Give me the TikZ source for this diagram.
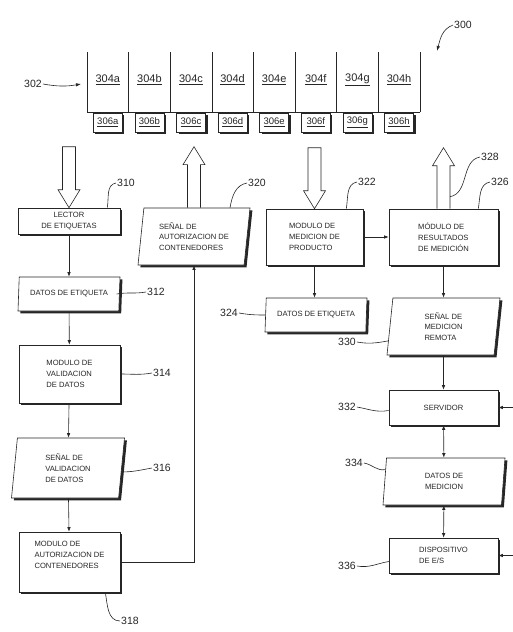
\documentclass[tikz,border=0pt]{standalone}
\usepackage{fontspec}
\setmainfont{Liberation Sans}
\usetikzlibrary{calc,arrows.meta,shapes.geometric,shadows}
\definecolor{inkGrey}{HTML}{262626}
\tikzset{
  procbox/.style={rectangle, draw=inkGrey, fill=white, line width=0.6pt, align=left, font=\fontsize{7.6}{10.8}\selectfont, text=inkGrey, inner sep=2pt, drop shadow={shadow xshift=2.4pt, shadow yshift=-2.4pt, fill=inkGrey, opacity=1}},
  databox/.style={trapezium, trapezium left angle=79, trapezium right angle=101, trapezium stretches body=true, draw=inkGrey, fill=white, line width=0.6pt, align=left, font=\fontsize{7.6}{10.8}\selectfont, text=inkGrey, inner sep=1pt, drop shadow={shadow xshift=2.4pt, shadow yshift=-2.4pt, fill=inkGrey, opacity=1}},
  slimdata/.style={databox, trapezium left angle=82, trapezium right angle=98},
  tagbox/.style={rectangle, draw=inkGrey, fill=white, line width=0.6pt, minimum width=29, minimum height=19, inner sep=0pt, font=\fontsize{9.5}{10}\selectfont, text=inkGrey, drop shadow={shadow xshift=2pt, shadow yshift=-2pt, fill=inkGrey, opacity=1}},
  slotnum/.style={font=\fontsize{11}{12}\selectfont, text=inkGrey, inner sep=1pt},
  slotline/.style={draw=inkGrey, line width=0.6pt},
  refnum/.style={font=\fontsize{10.5}{12}\selectfont, text=inkGrey, inner sep=1pt},
  leader/.style={draw=inkGrey, line width=0.6pt},
  leaderarrow/.style={leader, -{Latex[length=5pt,width=3.5pt]}},
  flowarrow/.style={-{Latex[length=4.5pt,width=3.5pt]}, line width=0.6pt, draw=inkGrey},
  bothflow/.style={{Latex[length=4.5pt,width=3.5pt]}-{Latex[length=4.5pt,width=3.5pt]}, line width=0.6pt, draw=inkGrey},
  % --- hollow in/out arrows ---
  hollowdown/.pic={\draw[line width=0.6pt, draw=inkGrey, fill=white] (0,0) -- (-11,18) -- (-6.5,18) -- (-6.5,61) -- (6.5,61) -- (6.5,18) -- (11,18) -- cycle;},
  hollowup/.pic={\draw[line width=0.6pt, draw=inkGrey] (-6.5,0) -- (-6.5,43) -- (-11,43) -- (0,61) -- (11,43) -- (6.5,43) -- (6.5,0);},
}

\begin{document}
\begin{tikzpicture}[x=1pt,y=1pt]
  \useasboundingbox (0,0) rectangle (513,-632);

  % Container rack: slots 304 and tags 306
  \foreach \l [count=\i from 0] in {a,b,c,d,e,f,g,h} {
    \pgfmathsetmacro\xs{87+41.6*\i}
    \draw[slotline] (\xs,-52) -- (\xs,-112);
    \node[slotnum] (slot\l) at (\xs+20.8,-80) {\underline{304\l}};
    \node[tagbox] (tag\l) at (\xs+20.8,-122.5) {\underline{306\l}};
  }
  \draw[slotline] (419.8,-52) -- (419.8,-112);
  \draw[slotline] (87,-112) -- (419.8,-112);

  \node[refnum] (n302) at (33,-84) {302};
  \coordinate (rackW) at (81,-84);
  \draw[leaderarrow] (n302.east) to[out=-10, in=190] (rackW);
  \node[refnum] (n300) at (463,-25) {300};
  \coordinate (sysPt) at (437,-51);
  \draw[leaderarrow] (n300.west) to[out=200, in=75] (sysPt);

  % Left column: tag reading and validation
  \node[procbox, align=center, minimum width=102, minimum height=26] (lector) at (69,-221) {LECTOR\\DE ETIQUETAS};
  \node[slimdata, minimum width=102, minimum height=34] (etiq) at (69,-294) {DATOS DE ETIQUETA};
  \node[procbox, minimum width=101, minimum height=58] (valid) at (69.5,-374) {MODULO DE\\VALIDACION\\DE DATOS};
  \node[databox, minimum width=113, minimum height=60] (senalv) at (68,-468) {SEÑAL DE\\VALIDACION\\DE DATOS};
  \node[procbox, minimum width=101, minimum height=60, text depth=14pt] (autoriz) at (69.5,-562) {MODULO DE\\AUTORIZACION DE\\CONTENEDORES};

  % Container authorisation signal
  \node[databox, minimum width=112, minimum height=57] (senala) at (194,-236.5) {SEÑAL DE\\AUTORIZACION DE\\CONTENEDORES};

  % Right columns: measurement
  \node[procbox, minimum width=97, minimum height=56] (medprod) at (314.5,-237) {MODULO DE\\MEDICION DE\\PRODUCTO};
  \node[procbox, minimum width=109, minimum height=56] (result) at (443.5,-237) {MÓDULO DE\\RESULTADOS\\DE MEDICIÓN};
  \node[slimdata, minimum width=102, minimum height=34] (etiqm) at (316,-315) {DATOS DE ETIQUETA};
  \node[databox, minimum width=113, minimum height=57] (remota) at (443.5,-326.5) {SEÑAL DE\\MEDICION\\REMOTA};
  \node[procbox, align=center, minimum width=109, minimum height=35] (servidor) at (443.5,-407.5) {SERVIDOR};
  \node[databox, align=center, minimum width=122, minimum height=47] (datosm) at (444,-481.5) {DATOS DE\\MEDICION};
  \node[procbox, minimum width=109, minimum height=35] (disp) at (443.5,-555.5) {DISPOSITIVO\\DE E/S};

  % Hollow in/out arrows
  \pic at (lector.north) {hollowdown};
  \pic at (senala.north) {hollowup};
  \pic at (medprod.north) {hollowdown};
  \pic at (result.north) {hollowup};
  \coordinate (outR) at ($(result.north)+(6.5,12)$);

  % Connections
  \draw[flowarrow] (lector) -- (etiq);
  \draw[flowarrow] (etiq) -- (valid);
  \draw[flowarrow] (valid) -- (senalv);
  \draw[flowarrow] (senalv) -- (autoriz);
  \draw[flowarrow] (autoriz.east) -| (senala.south);
  \draw[flowarrow] (medprod) -- (result);
  \draw[flowarrow] (medprod) -- (medprod |- etiqm.north);
  \draw[flowarrow] (result) -- (remota);
  \draw[flowarrow] (remota) -- (servidor);
  \draw[bothflow] (servidor) -- (datosm);
  \draw[bothflow] (datosm) -- (disp);
  \coordinate (feedS) at (513,-407.5);
  \coordinate (feedD) at (513,-555.5);
  \draw[flowarrow] (feedS) -- (servidor.east);
  \draw[flowarrow] (feedD) -- (disp.east);

  % Reference numerals
  \node[refnum] (n310) at (126,-183) {310};
  \draw[leader] (n310.west) to[out=190, in=80] ($(lector.north east)+(-13,0)$);
  \node[refnum] (n320) at (257,-183) {320};
  \draw[leader] (n320.west) to[out=190, in=80] ($(senala.north)+(36,0)$);
  \node[refnum] (n322) at (367,-182) {322};
  \draw[leader] (n322.west) to[out=190, in=80] ($(medprod.north east)+(-17,0)$);
  \node[refnum] (n326) at (500,-182) {326};
  \draw[leader] (n326.west) to[out=190, in=80] ($(result.north east)+(-20,0)$);
  \node[refnum] (n328) at (490,-157) {328};
  \draw[leader] (n328.west) to[out=190, in=10] (outR);
  \node[refnum] (n312) at (156,-292) {312};
  \draw[leader] (n312.west) to[out=190, in=10] ($(etiq.east)+(-3,0)$);
  \node[refnum] (n314) at (162,-373) {314};
  \draw[leader] (n314.west) to[out=190, in=0] (valid.east);
  \node[refnum] (n316) at (162,-468) {316};
  \draw[leader] (n316.west) to[out=190, in=0] ($(senalv.east)+(-1,-4)$);
  \node[refnum] (n318) at (130,-621) {318};
  \draw[leader] (n318.west) to[out=180, in=-80] ($(autoriz.south east)+(-15,0)$);
  \node[refnum] (n324) at (229,-313) {324};
  \draw[leader] (n324.east) to[out=-10, in=180] (etiqm.west);
  \node[refnum] (n330) at (347,-342) {330};
  \draw[leader] (n330.east) to[out=-10, in=190] ($(remota.bottom left corner)!0.25!(remota.top left corner)$);
  \node[refnum] (n332) at (347,-407) {332};
  \draw[leader] (n332.east) to[out=-10, in=190] ($(servidor.west)+(0,-3)$);
  \node[refnum] (n334) at (354,-463) {334};
  \draw[leader] (n334.east) to[out=-10, in=190] ($(datosm.top left corner)!0.25!(datosm.bottom left corner)$);
  \node[refnum] (n336) at (347,-566) {336};
  \draw[leader] (n336.east) to[out=-10, in=190] ($(disp.west)+(0,-6)$);
\end{tikzpicture}
\end{document}
